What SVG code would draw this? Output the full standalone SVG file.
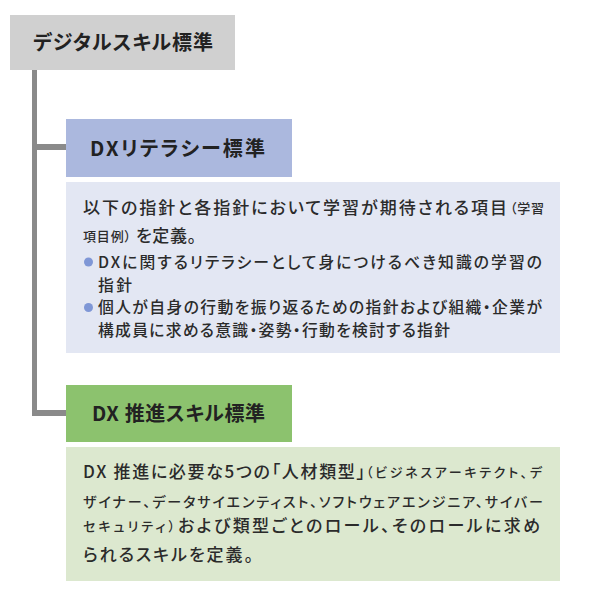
<svg xmlns="http://www.w3.org/2000/svg" width="600" height="604" viewBox="0 0 600 604">
<style>
text{font-family:"Noto Sans CJK JP","Noto Sans",sans-serif;fill:#2b2b2b;font-feature-settings:"palt";font-weight:500}
.h{font-size:20px;font-weight:bold;fill:#222}
.b{font-size:17px}
.t{font-size:15.8px}
.s{font-size:13px}
.m{font-size:14px}
.line{fill:#8a8a8a}
.dot{fill:#7f97d6}
</style>
<rect width="600" height="604" fill="#ffffff"/>
<g id="connectors">
<rect class="line" x="32" y="70" width="5" height="346"/>
<rect class="line" x="32" y="144" width="34" height="6"/>
<rect class="line" x="32" y="410" width="34" height="6"/>
</g>
<g id="root">
<rect x="10" y="15" width="225" height="55" fill="#d0d0d0"/>
<text class="h" x="33" y="50" textLength="180" lengthAdjust="spacing">デジタルスキル標準</text>
</g>
<g id="literacy">
<rect x="66" y="119" width="226" height="58" fill="#abb8de"/>
<text class="h" x="90" y="156" textLength="175" lengthAdjust="spacing">DXリテラシー標準</text>
</g>
<g id="literacy-desc">
<rect x="66" y="182" width="494" height="171" fill="#e3e7f3"/>
<text class="b" x="83" y="214" textLength="424" lengthAdjust="spacing">以下の指針と各指針において学習が期待される項目</text>
<text class="s" x="510" y="213" textLength="34" lengthAdjust="spacing">（学習</text>
<text class="s" x="83" y="241" textLength="48" lengthAdjust="spacing">項目例）</text>
<text class="b" x="136" y="242" textLength="60" lengthAdjust="spacing">を定義。</text>
<circle class="dot" cx="88.5" cy="262" r="4.5"/>
<text class="t" x="98" y="267.5" textLength="444" lengthAdjust="spacing">DXに関するリテラシーとして身につけるべき知識の学習の</text>
<text class="t" x="98" y="290.5" textLength="34" lengthAdjust="spacing">指針</text>
<circle class="dot" cx="88.5" cy="307.5" r="4.5"/>
<text class="t" x="98" y="313" textLength="444" lengthAdjust="spacing">個人が自身の行動を振り返るための指針および組織・企業が</text>
<text class="t" x="98" y="336" textLength="352" lengthAdjust="spacing">構成員に求める意識・姿勢・行動を検討する指針</text>
</g>
<g id="promotion">
<rect x="66" y="385" width="226" height="57" fill="#8cc26e"/>
<text class="h" x="92" y="421" textLength="173" lengthAdjust="spacing">DX 推進スキル標準</text>
</g>
<g id="promotion-desc">
<rect x="66" y="447" width="494" height="134" fill="#dce8cf"/>
<text class="b" x="83" y="478" textLength="282" lengthAdjust="spacing">DX 推進に必要な5つの「人材類型」</text>
<text class="s" x="366" y="477" textLength="176" lengthAdjust="spacing">（ビジネスアーキテクト、デ</text>
<text class="m" x="83" y="507" textLength="460" lengthAdjust="spacing">ザイナー、データサイエンティスト、ソフトウェアエンジニア、サイバー</text>
<text class="s" x="83" y="531" textLength="92" lengthAdjust="spacing">セキュリティ）</text>
<text class="b" x="178" y="532" textLength="362" lengthAdjust="spacing">および類型ごとのロール、そのロールに求め</text>
<text class="b" x="83" y="561" textLength="170" lengthAdjust="spacing">られるスキルを定義。</text>
</g>
</svg>
